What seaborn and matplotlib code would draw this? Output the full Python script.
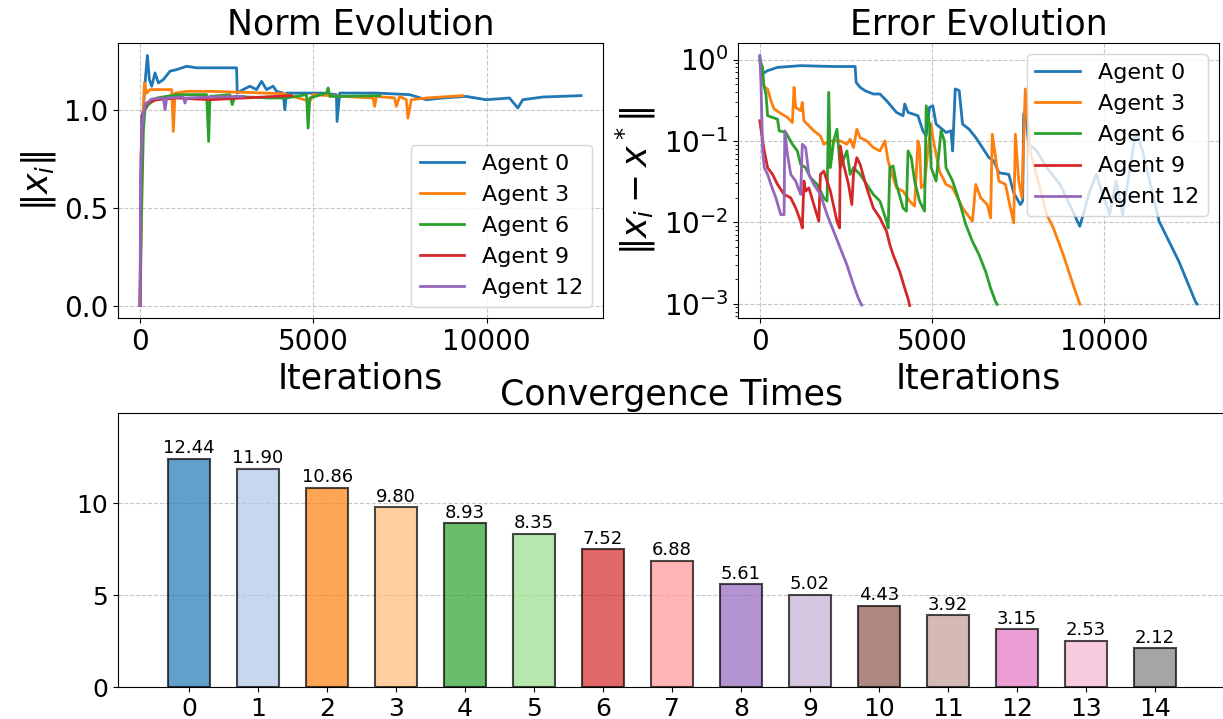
import matplotlib
matplotlib.use("Agg")
import matplotlib.pyplot as plt
import seaborn as sns
import pandas as pd

# ---- norm evolution ----
norm_it_0 = [0, 48, 96, 144, 211, 269, 336, 432, 528, 672, 864, 1056, 1344, 1632, 2016, 2784, 2803,
             2976, 3168, 3360, 3504, 3648, 3840, 3936, 4128, 4176, 4224, 4512, 4896, 5280, 5664, 5683,
             5760, 6048, 6816, 7776, 8256, 8736, 9408, 9984, 10656, 10896, 11040, 11616, 12720]
norm_0 = [0.0, 0.966, 1.0, 1.137, 1.277, 1.154, 1.120, 1.188, 1.137, 1.154, 1.197, 1.205, 1.222, 1.214,
          1.214, 1.214, 1.085, 1.103, 1.120, 1.103, 1.145, 1.103, 1.120, 1.094, 1.085, 1.0, 1.085,
          1.085, 1.085, 1.085, 1.077, 0.940, 1.085, 1.085, 1.085, 1.077, 1.051, 1.060, 1.068, 1.051,
          1.060, 1.009, 1.051, 1.065, 1.072]

norm_it_3 = [0, 48, 96, 125, 192, 288, 576, 912, 960, 1008, 1344, 2016, 2976, 4128, 4896, 4992, 5856,
             6720, 6768, 6816, 7344, 7392, 7488, 7680, 7728, 7824, 8256, 9312]
norm_3 = [0.0, 0.675, 1.017, 1.137, 1.085, 1.103, 1.103, 1.103, 0.889, 1.085, 1.094, 1.094, 1.089,
          1.082, 1.043, 1.077, 1.068, 1.060, 1.017, 1.068, 1.060, 1.017, 1.068, 1.051, 0.957, 1.051,
          1.060, 1.072]

norm_it_6 = [0, 48, 96, 144, 240, 480, 1056, 1920, 1978, 2016, 2592, 2659, 2736, 3744, 4224, 4800,
             4848, 4896, 5376, 5424, 5472, 5856, 6912]
norm_6 = [0.0, 0.504, 0.897, 1.0, 1.026, 1.060, 1.077, 1.077, 0.838, 1.068, 1.077, 1.026, 1.068, 1.060,
          1.060, 1.077, 0.906, 1.060, 1.085, 1.111, 1.068, 1.068, 1.072]

norm_it_9 = [0, 29, 77, 192, 480, 1056, 2016, 2976, 4368]
norm_9 = [0.0, 0.778, 0.966, 1.034, 1.051, 1.060, 1.051, 1.060, 1.072]

norm_it_12 = [0, 19, 58, 144, 336, 672, 720, 768, 1248, 1296, 1344, 2016, 2976]
norm_12 = [0.0, 0.675, 0.915, 1.026, 1.055, 1.060, 1.0, 1.060, 1.065, 1.034, 1.060, 1.065, 1.068]

# ---- error evolution ----
err_it_0 = [0, 82, 226, 514, 1186, 2146, 2770, 2798, 2914, 3058, 3298, 3490, 3682, 3970, 4162, 4210,
            4306, 4594, 4738, 4834, 4930, 5026, 5122, 5410, 5554, 5602, 5678, 5794, 5890, 6082, 6274,
            6466, 6658, 6802, 6946, 7234, 7378, 7570, 7637, 7666, 7714, 7810, 8050, 8338, 8722, 9298,
            9586, 9778, 9970, 10162, 10354, 10546, 10930, 11122, 11602, 12178, 12658, 12706]
err_0 = [1.07, 0.67, 0.73, 0.80, 0.84, 0.82, 0.82, 0.525, 0.455, 0.414, 0.377, 0.377, 0.312, 0.224,
         0.204, 0.284, 0.224, 0.204, 0.133, 0.115, 0.258, 0.270, 0.161, 0.127, 0.133, 0.0753, 0.435,
         0.414, 0.161, 0.139, 0.110, 0.0828, 0.0623, 0.0566, 0.0406, 0.0388, 0.0230, 0.0165, 0.0182,
         0.213, 0.235, 0.091, 0.0753, 0.0469, 0.0292, 0.00893, 0.0241, 0.0388, 0.0220, 0.0124, 0.0321,
         0.0124, 0.133, 0.0753, 0.0103, 0.0033, 0.00106, 0.00099]

err_it_3 = [0, 34, 130, 226, 322, 418, 562, 802, 946, 994, 1042, 1186, 1234, 1282, 1426, 1570, 1762,
            1858, 2050, 2338, 2530, 2626, 2722, 2818, 2914, 3106, 3298, 3490, 3634, 3730, 3874, 3970,
            4162, 4354, 4498, 4594, 4642, 4690, 4786, 4882, 4978, 5026, 5218, 5410, 5602, 5698, 5890,
            6034, 6178, 6274, 6418, 6610, 6706, 6754, 6850, 6946, 7138, 7282, 7378, 7426, 7522, 7618,
            7714, 7858, 8338, 8530, 8818, 9106, 9298]
err_3 = [0.97, 0.84, 0.455, 0.435, 0.312, 0.246, 0.224, 0.194, 0.168, 0.455, 0.258, 0.235, 0.297,
         0.177, 0.153, 0.133, 0.115, 0.091, 0.100, 0.100, 0.091, 0.105, 0.0828, 0.139, 0.110, 0.100,
         0.0828, 0.0753, 0.100, 0.0566, 0.0353, 0.0265, 0.0241, 0.0182, 0.0158, 0.100, 0.0828, 0.0265,
         0.0292, 0.0753, 0.161, 0.110, 0.0426, 0.0292, 0.0265, 0.0220, 0.0150, 0.0124, 0.0103, 0.0292,
         0.0200, 0.0165, 0.0113, 0.121, 0.0623, 0.0321, 0.0292, 0.0150, 0.0098, 0.121, 0.0321, 0.0200,
         0.435, 0.0753, 0.0124, 0.00851, 0.00399, 0.0017, 0.00099]

err_it_6 = [0, 82, 110, 178, 226, 514, 562, 754, 946, 1090, 1186, 1330, 1474, 1666, 1858, 1954, 2002,
            2050, 2146, 2242, 2338, 2530, 2626, 2722, 2914, 3106, 3298, 3490, 3682, 3730, 3778, 3874,
            3970, 4162, 4258, 4306, 4402, 4498, 4642, 4786, 4834, 4930, 4978, 5122, 5266, 5362, 5410,
            5602, 5794, 5986, 6178, 6370, 6562, 6706, 6850, 6898]
err_6 = [0.97, 0.80, 0.50, 0.377, 0.204, 0.185, 0.133, 0.127, 0.091, 0.0753, 0.0515, 0.0469, 0.0353,
         0.0292, 0.0200, 0.0182, 0.395, 0.0469, 0.100, 0.139, 0.0469, 0.0753, 0.0388, 0.0469, 0.0388,
         0.0292, 0.0220, 0.0182, 0.0103, 0.00851, 0.0469, 0.0491, 0.0292, 0.0150, 0.0137, 0.0753,
         0.0623, 0.0321, 0.0182, 0.0137, 0.270, 0.161, 0.0469, 0.0321, 0.133, 0.100, 0.0469, 0.0321,
         0.0182, 0.00936, 0.00582, 0.00399, 0.00248, 0.00155, 0.00106, 0.00098]

err_it_9 = [0, 82, 130, 226, 370, 514, 706, 898, 1042, 1186, 1234, 1282, 1330, 1426, 1570, 1714, 1762,
            1858, 2050, 2242, 2318, 2338, 2434, 2578, 2674, 2722, 2818, 2914, 3106, 3298, 3490, 3682,
            3778, 3874, 4066, 4210, 4306, 4354]
err_9 = [0.177, 0.100, 0.0753, 0.0469, 0.0388, 0.0292, 0.0220, 0.0200, 0.0150, 0.0103, 0.00851,
         0.0321, 0.0241, 0.0265, 0.0165, 0.0103, 0.0388, 0.0426, 0.0241, 0.0103, 0.00851, 0.0868,
         0.0515, 0.0292, 0.0165, 0.0388, 0.0623, 0.0515, 0.0265, 0.0150, 0.0113, 0.00774, 0.0053,
         0.00399, 0.00248, 0.00155, 0.00116, 0.00095]

err_it_12 = [0, 34, 82, 130, 226, 322, 466, 610, 706, 725, 802, 898, 1042, 1186, 1234, 1330, 1426,
             1570, 1762, 1954, 2146, 2338, 2530, 2722, 2866, 2962]
err_12 = [1.12, 0.50, 0.0753, 0.0469, 0.0388, 0.0292, 0.0200, 0.0124, 0.0124, 0.133, 0.0685, 0.0388,
          0.0321, 0.0220, 0.091, 0.0828, 0.0388, 0.0292, 0.0220, 0.0124, 0.00774, 0.00482, 0.0030,
          0.0017, 0.00116, 0.00096]

# ---- convergence times ----
agent_ids = list(range(15))
conv_times = [12.44, 11.90, 10.86, 9.80, 8.93, 8.35, 7.52, 6.88, 5.61, 5.02, 4.43, 3.92, 3.15, 2.53, 2.12]

shown = [0, 3, 6, 9, 12]
norm_it = [norm_it_0, norm_it_3, norm_it_6, norm_it_9, norm_it_12]
norm_vals = [norm_0, norm_3, norm_6, norm_9, norm_12]
err_it = [err_it_0, err_it_3, err_it_6, err_it_9, err_it_12]
err_vals = [err_0, err_3, err_6, err_9, err_12]
line_colors = sns.color_palette("tab10")[:5]

fig = plt.figure(figsize=(12.23, 7.19), dpi=100)
ax1 = fig.add_axes([0.0965, 0.5577, 0.3966, 0.3825])
ax2 = fig.add_axes([0.6034, 0.5577, 0.3933, 0.3825])
ax3 = fig.add_axes([0.0965, 0.0445, 0.906, 0.381])

# Norm evolution
for a, it, v, c in zip(shown, norm_it, norm_vals, line_colors):
    sns.lineplot(x=it, y=v, color=c, lw=2, label=f"Agent {a}", estimator=None, sort=False, ax=ax1)
ax1.set_title("Norm Evolution", fontsize=25)
ax1.set_xlabel("Iterations", fontsize=25)
ax1.set_ylabel(r"$\|x_i\|$", fontsize=25)
ax1.set_yticks([0.0, 0.5, 1.0])
ax1.tick_params(labelsize=20)
ax1.grid(True, linestyle="--", alpha=0.7)
ax1.legend(loc="lower right", fontsize=16)

# Error evolution
for a, it, v, c in zip(shown, err_it, err_vals, line_colors):
    sns.lineplot(x=it, y=v, color=c, lw=2, label=f"Agent {a}", estimator=None, sort=False, ax=ax2)
ax2.set_yscale("log")
ax2.set_title("Error Evolution", fontsize=25)
ax2.set_xlabel("Iterations", fontsize=25)
ax2.set_ylabel(r"$\|x_i - x^*\|$", fontsize=25)
ax2.tick_params(labelsize=20)
ax2.grid(True, linestyle="--", alpha=0.7)
ax2.legend(loc="upper right", fontsize=16)

# Convergence times
bar_colors = list(plt.cm.tab20.colors[:15])
df = pd.DataFrame({"agent": [str(a) for a in agent_ids], "time": conv_times})
sns.barplot(data=df, x="agent", y="time", hue="agent", palette=bar_colors, saturation=1, width=0.6,
            alpha=0.7, edgecolor="black", linewidth=1.5, legend=False, ax=ax3)
for cont in ax3.containers:
    ax3.bar_label(cont, fmt="%.2f", fontsize=13, padding=1)
ax3.set_xlim(-1.03, 15.03)
ax3.set_ylim(0, max(conv_times) * 1.2)
ax3.set_yticks([0, 5, 10])
ax3.set_title("Convergence Times", fontsize=25)
ax3.set_xlabel("")
ax3.set_ylabel("")
ax3.tick_params(labelsize=18)
ax3.grid(True, axis="y", linestyle="--", alpha=0.7)
ax3.set_axisbelow(True)

fig.savefig("out.png", dpi=100)
